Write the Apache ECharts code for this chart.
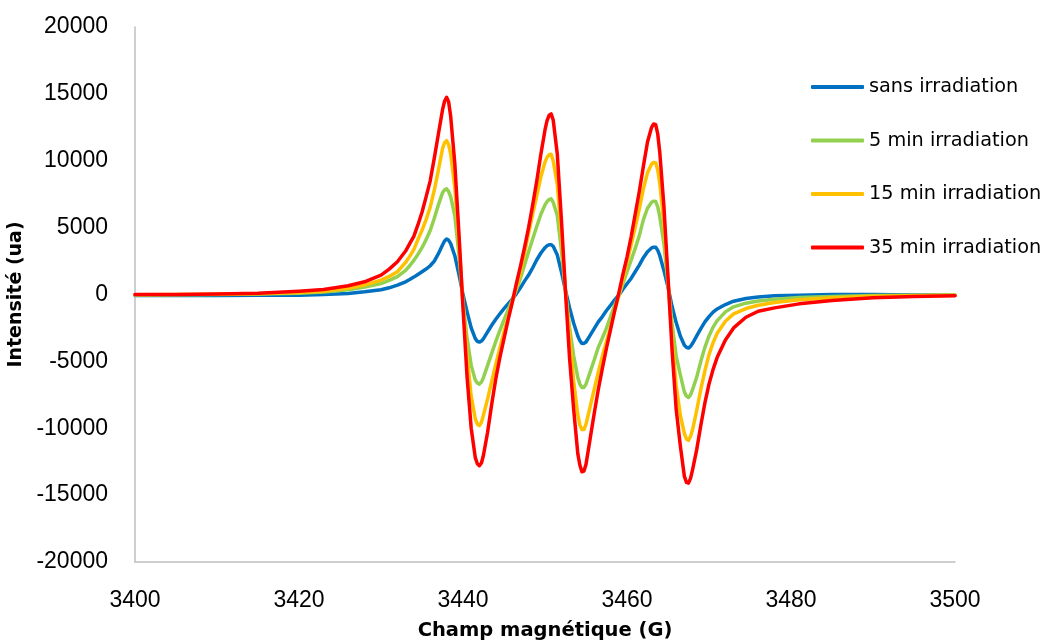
<!DOCTYPE html>
<html>
<head>
<meta charset="utf-8">
<script src="https://cdn.jsdelivr.net/npm/echarts@6/dist/echarts.min.js"></script>
<style>html,body{margin:0;padding:0;background:#fff}#c{width:1046px;height:643px}</style>
</head>
<body>
<div id="c"></div>
<script>
// magnetic field sample positions (G)
const field = [3400,3405,3410,3415,3420,3423,3426,3428,3430,3431,3432,3433,
  3433.5,3434,3434.5,3435,3435.5,3436,3436.5,3437,3437.5,3437.75,3438,3438.25,
  3438.5,3439,3439.5,3440,3440.5,3441,3441.5,3441.75,3442,3442.25,3442.5,3443,
  3443.5,3444,3444.5,3445,3445.5,3446,3446.5,3447,3447.5,3448,3448.5,3449,
  3449.5,3450,3450.25,3450.5,3450.75,3451,3451.5,3452,3452.5,3453,3453.5,3454,
  3454.25,3454.5,3454.75,3455,3455.5,3456,3456.5,3457,3457.5,3458,3458.5,3459,
  3459.5,3460,3460.5,3461,3461.5,3462,3462.5,3463,3463.25,3463.5,3463.75,3464,
  3464.5,3465,3465.5,3466,3466.5,3467,3467.25,3467.5,3467.75,3468,3468.5,3469,
  3469.5,3470,3470.5,3471,3472,3473,3474.5,3476,3478,3481,3485,3490,
  3495,3500];
const sansIrradiation = [-80,-80,-70,-60,-50,0,80,200,350,500,700,950,
  1120,1300,1500,1700,1900,2150,2500,3050,3700,4000,4150,4050,
  3800,2900,1500,0,-1300,-2500,-3300,-3500,-3560,-3480,-3300,-2800,
  -2300,-1850,-1440,-1050,-700,-350,50,500,1000,1450,2000,2600,
  3100,3500,3640,3720,3720,3600,2950,1700,300,-1000,-2150,-3100,
  -3450,-3650,-3660,-3550,-3050,-2550,-2050,-1650,-1200,-800,-400,-50,
  400,800,1200,1700,2200,2750,3200,3480,3540,3540,3300,2900,
  1800,550,-900,-2100,-3100,-3800,-3950,-4000,-3880,-3650,-3100,-2550,
  -2050,-1650,-1320,-1080,-750,-500,-300,-180,-100,-50,0,0,
  -30,-50];
const irr5 = [-30,-20,0,30,100,180,350,550,820,1050,1330,1800,
  2150,2550,3000,3500,4100,4790,5700,6700,7600,7820,7900,7700,
  7300,5900,3000,-600,-3300,-5300,-6400,-6620,-6700,-6550,-6200,-5300,
  -4400,-3500,-2690,-1900,-1150,-400,350,1200,2200,3200,4150,5100,
  6000,6700,6950,7100,7150,6900,5900,3300,200,-2500,-4600,-6200,
  -6700,-6950,-6950,-6700,-5800,-4900,-3950,-3250,-2500,-1650,-800,-100,
  800,1700,2550,3450,4400,5600,6450,6900,6980,6950,6550,5800,
  3800,800,-2200,-4600,-6000,-7300,-7600,-7700,-7500,-7100,-6180,-5000,
  -3950,-3100,-2440,-1950,-1300,-920,-650,-480,-350,-230,-150,-80,
  -50,-30];
const irr15 = [-10,0,20,60,150,250,470,700,1070,1350,1700,2400,
  2850,3350,4100,4800,5600,6530,7800,9300,10900,11350,11500,11200,
  10500,8000,4000,-700,-4600,-7600,-9300,-9700,-9800,-9550,-9000,-7800,
  -6500,-5200,-4000,-2800,-1700,-600,500,1700,3100,4600,6000,7400,
  8800,9900,10250,10450,10480,10000,8200,4500,300,-3200,-6500,-9000,
  -9750,-10100,-10100,-9700,-8400,-7100,-5800,-4600,-3500,-2400,-1200,-100,
  1100,2400,3700,5000,6400,7900,9100,9750,9880,9850,9300,8300,
  5300,1050,-3300,-6800,-9000,-10400,-10800,-10900,-10600,-10100,-8670,-7100,
  -5700,-4500,-3600,-2900,-2000,-1450,-1050,-800,-600,-400,-250,-140,
  -90,-60];
const irr35 = [0,0,30,100,250,380,650,950,1450,1900,2450,3250,
  3800,4350,5200,6150,7300,8500,10200,12000,13800,14450,14750,14400,
  13300,9800,4600,-1000,-6200,-10000,-12200,-12650,-12800,-12600,-12000,-10300,
  -8200,-6300,-4700,-3300,-1900,-600,800,2100,3500,5000,6700,8500,
  10500,12300,13000,13400,13500,13050,10500,5600,200,-4800,-8600,-11900,
  -12750,-13250,-13200,-12700,-10800,-8900,-7100,-5500,-4000,-2600,-1200,100,
  1500,2800,4300,6000,7700,9600,11400,12500,12750,12700,12000,10600,
  6600,1300,-4200,-8600,-11300,-13600,-14050,-14100,-13750,-13100,-11600,-9800,
  -8100,-6700,-5600,-4700,-3400,-2500,-1700,-1250,-1000,-700,-450,-250,
  -150,-100];
const seriesNames = ['sans irradiation','5 min irradiation','15 min irradiation','35 min irradiation'];
const seriesValues = [sansIrradiation, irr5, irr15, irr35];
const colors = ['#0070C0','#92D050','#FFC000','#FF0000'];

const chart = echarts.init(document.getElementById('c'));
chart.setOption({
  animation: false,
  backgroundColor: '#fff',
  color: colors,
  grid: {left: 135, right: 91, top: 27, bottom: 81, containLabel: false, outerBoundsMode: 'none'},
  legend: {
    orient: 'vertical', left: 806, top: 72,
    itemWidth: 53, itemHeight: 4, itemGap: 33.5, itemTextGap: 5,
    icon: 'roundRect',
    textStyle: {fontFamily: 'DejaVu Sans', fontSize: 19.3, color: '#000', lineHeight: 20},
    data: seriesNames
  },
  xAxis: {
    type: 'value', min: 3400, max: 3500, interval: 20,
    name: 'Champ magnétique (G)', nameLocation: 'middle', nameGap: 59,
    nameTextStyle: {fontFamily: 'DejaVu Sans', fontWeight: 'bold', fontSize: 19.5, color: '#000'},
    axisLine: {show: true, onZero: false, lineStyle: {color: '#BFBFBF', width: 1.5}},
    axisTick: {show: false},
    splitLine: {show: false},
    axisLabel: {fontFamily: 'Liberation Sans', fontSize: 23, color: '#000', margin: 27,
      formatter: v => String(v)}
  },
  yAxis: {
    type: 'value', min: -20000, max: 20000, interval: 5000,
    name: 'Intensité (ua)', nameLocation: 'middle', nameGap: 84,
    nameTextStyle: {fontFamily: 'DejaVu Sans', fontWeight: 'bold', fontSize: 19, color: '#000'},
    axisLine: {show: true, lineStyle: {color: '#BFBFBF', width: 1.5}},
    axisTick: {show: false},
    splitLine: {show: false},
    axisLabel: {fontFamily: 'Liberation Sans', fontSize: 23, color: '#000', margin: 27,
      formatter: v => String(v)}
  },
  series: seriesNames.map((n, i) => ({
    name: n, type: 'line', showSymbol: false, symbol: 'none',
    smooth: false,
    lineStyle: {width: 3.5, color: colors[i], join: 'round', cap: 'round'},
    itemStyle: {color: colors[i]},
    data: field.map((x, j) => [x, seriesValues[i][j]])
  }))
});
</script>
</body>
</html>
